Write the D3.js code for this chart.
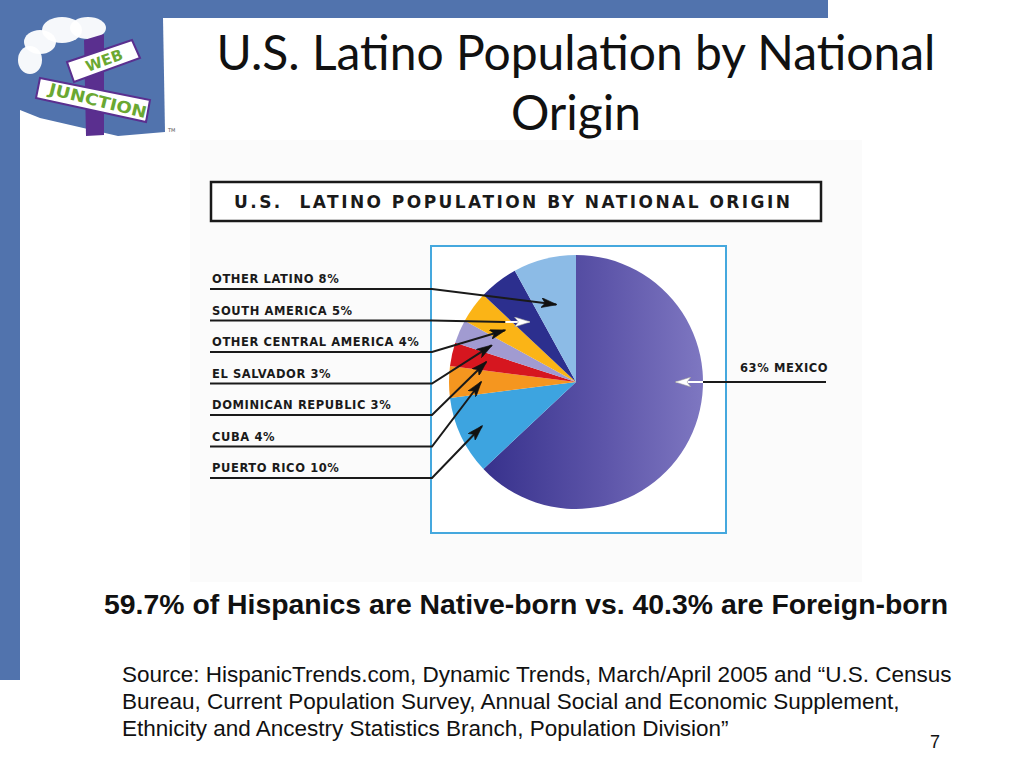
<!DOCTYPE html>
<html>
<head>
<meta charset="utf-8">
<script src="https://cdn.jsdelivr.net/npm/d3@7"></script>
<style>
  html, body { margin: 0; padding: 0; background: #fff; }
  svg { display: block; }
</style>
</head>
<body>
<div class="js-vis"></div>
<script>
// slice data, clockwise from 12 o'clock
const origins = ["Mexico", "Puerto Rico", "Cuba", "Dominican Republic", "El Salvador",
  "Other Central America", "South America", "Other Latino"]
const shares = [63, 10, 4, 3, 3, 4, 5, 8]
const labelText = ["63% MEXICO", "PUERTO RICO 10%", "CUBA 4%", "DOMINICAN REPUBLIC 3%",
  "EL SALVADOR 3%", "OTHER CENTRAL AMERICA 4%", "SOUTH AMERICA 5%", "OTHER LATINO 8%"]
const sliceColors = ["url(#mex)", "#3da4e0", "#f5961f", "#d6161f", "#a19bd1",
  "#fbb416", "#2c2f8e", "#8cbbe6"]
// left-hand labels, top to bottom
const leftOrder = ["Other Latino", "South America", "Other Central America", "El Salvador",
  "Dominican Republic", "Cuba", "Puerto Rico"]

const title = ["U.S. Latino Population by National", "Origin"]
const boxTitle = "U.S.  LATINO POPULATION BY NATIONAL ORIGIN"
const note = "59.7% of Hispanics are Native-born vs. 40.3% are Foreign-born"
const source = [
  "Source: HispanicTrends.com, Dynamic Trends, March/April 2005 and \u201cU.S. Census",
  "Bureau, Current Population Survey, Annual Social and Economic Supplement,",
  "Ethnicity and Ancestry Statistics Branch, Population Division\u201d"]
const pageNo = "7"

const W = 1024, H = 768
const blue = "#5173ad"

const svg = d3.select(".js-vis").append("svg")
  .attr("width", W)
  .attr("height", H)

const defs = svg.append("defs")
const g = defs.append("linearGradient").attr("id", "mex")
  .attr("x1", "0%").attr("x2", "100%").attr("y1", "0%").attr("y2", "0%")
g.append("stop").attr("offset", "0%").attr("stop-color", "#37318c")
g.append("stop").attr("offset", "55%").attr("stop-color", "#5d55a9")
g.append("stop").attr("offset", "100%").attr("stop-color", "#7e77c1")

function marker(id, fill, stroke) {
  defs.append("marker").attr("id", id)
    .attr("viewBox", "0 0 16 10")
    .attr("markerUnits", "userSpaceOnUse")
    .attr("markerWidth", 16).attr("markerHeight", 10)
    .attr("refX", 15).attr("refY", 5)
    .attr("orient", "auto")
  .append("path")
    .attr("d", "M0,0 L16,5 L0,10 L4,5 Z")
    .attr("fill", fill)
    .attr("stroke", stroke)
    .attr("stroke-width", 0.6)
}
marker("ab", "#111", "#111")
marker("aw", "#fff", "#999")

// slide frame
svg.append("rect").attr("x", 0).attr("y", 0).attr("width", 828).attr("height", 18).attr("fill", blue)
svg.append("rect").attr("x", 0).attr("y", 0).attr("width", 20).attr("height", 680).attr("fill", blue)

// logo
const logo = svg.append("g").attr("class", "logo")
logo.append("path")
  .attr("d", "M20,18 L163,18 L165,132 L118,136 L40,118 L20,110 Z")
  .attr("fill", blue)
logo.selectAll("ellipse.cloud").data([[40, 42, 16, 12], [62, 30, 20, 13], [88, 28, 18, 11], [30, 60, 12, 14]])
  .enter().append("ellipse").attr("class", "cloud")
  .attr("cx", d => d[0]).attr("cy", d => d[1]).attr("rx", d => d[2]).attr("ry", d => d[3])
  .attr("fill", "#fff").attr("opacity", 0.95)
logo.append("path")
  .attr("d", "M84,40 L104,34 L104,135 L86,136 Z")
  .attr("fill", "#5a2f8f")
logo.append("path")
  .attr("d", "M67,62 L132,40 L140,58 L74,82 Z")
  .attr("fill", "#fff").attr("stroke", "#5a2f8f").attr("stroke-width", 2)
logo.append("path")
  .attr("d", "M40,78 L150,100 L146,122 L36,98 Z")
  .attr("fill", "#fff").attr("stroke", "#5a2f8f").attr("stroke-width", 2)
logo.append("text").text("WEB")
  .attr("transform", "translate(88,72) rotate(-20)")
  .attr("font-family", "DejaVu Sans").attr("font-weight", "bold").attr("font-size", 15)
  .attr("fill", "#6aa832")
logo.append("text").text("JUNCTION")
  .attr("transform", "translate(48,94) rotate(14)")
  .attr("font-family", "DejaVu Sans").attr("font-weight", "bold").attr("font-size", 16)
  .attr("textLength", 100).attr("lengthAdjust", "spacingAndGlyphs")
  .attr("fill", "#6aa832")
logo.append("text").text("TM").attr("x", 168).attr("y", 132)
  .attr("font-family", "DejaVu Sans").attr("font-size", 5).attr("fill", "#555")

// slide title
svg.append("g").selectAll("text")
  .data(title)
.enter().append("text")
  .attr("x", 576)
  .attr("y", (d, i) => 70 + i * 60)
  .attr("text-anchor", "middle")
  .attr("font-family", "Lato")
  .attr("font-size", 48)
  .attr("fill", "#111")
  .text(d => d)

// embedded chart picture
svg.append("rect").attr("x", 190).attr("y", 140).attr("width", 672).attr("height", 442).attr("fill", "#fbfbfb")

svg.append("rect").attr("x", 211).attr("y", 182).attr("width", 610).attr("height", 39)
  .attr("fill", "#fff").attr("stroke", "#1a1a1a").attr("stroke-width", 2.5)
svg.append("text").text(boxTitle)
  .attr("x", 234).attr("y", 208)
  .attr("font-family", "DejaVu Sans").attr("font-weight", "bold").attr("font-size", 17)
  .attr("textLength", 556).attr("lengthAdjust", "spacing")
  .attr("xml:space", "preserve").style("white-space", "pre")
  .attr("fill", "#1a1a1a")

svg.append("rect").attr("x", 431).attr("y", 246).attr("width", 295).attr("height", 287)
  .attr("fill", "#fff").attr("stroke", "#45a8de").attr("stroke-width", 2)

const cx = 576, cy = 382, R = 127
const pie = d3.pie().sort(null).value(d => d)
const arcs = pie(shares)
const arc = d3.arc().innerRadius(0).outerRadius(R)

const chart = svg.append("g").attr("transform", "translate(" + cx + "," + cy + ")")
chart.selectAll(".slice")
  .data(arcs)
.enter().append("path")
  .attr("class", "slice")
  .attr("d", arc)
  .attr("fill", (d, i) => sliceColors[i])

// leaders for the left labels
const tipRadius = { "Other Latino": 80, "South America": 76, "Other Central America": 88,
  "El Salvador": 92, "Dominican Republic": 92, "Cuba": 95, "Puerto Rico": 104 }
const y = d3.scalePoint().domain(leftOrder).range([289, 478])
const labX = 212, bendX = 432

const lab = svg.append("g").attr("class", "labels")
leftOrder.forEach(name => {
  const i = origins.indexOf(name)
  const tipArc = d3.arc().innerRadius(tipRadius[name]).outerRadius(tipRadius[name])
  const c = tipArc.centroid(arcs[i])
  const tx = cx + c[0], ty = cy + c[1]
  const ly = y(name)
  const white = name === "South America"
  lab.append("text")
    .attr("x", labX).attr("y", ly - 6)
    .attr("font-family", "DejaVu Sans").attr("font-weight", "bold").attr("font-size", 11.5)
    .attr("letter-spacing", 0.6)
    .attr("fill", "#1a1a1a")
    .text(labelText[i])
  if (white) {
    const mid = tx - 24
    lab.append("path")
      .attr("d", "M" + 210 + "," + ly + "L" + bendX + "," + ly + "L" + mid + "," + ty)
      .attr("fill", "none").attr("stroke", "#1a1a1a").attr("stroke-width", 2)
    lab.append("path")
      .attr("d", "M" + mid + "," + ty + "L" + tx + "," + ty)
      .attr("fill", "none").attr("stroke", "#fff").attr("stroke-width", 2)
      .attr("marker-end", "url(#aw)")
  } else {
    lab.append("path")
      .attr("d", "M" + 210 + "," + ly + "L" + bendX + "," + ly + "L" + tx + "," + ty)
      .attr("fill", "none").attr("stroke", "#1a1a1a").attr("stroke-width", 2)
      .attr("marker-end", "url(#ab)")
  }
})

// Mexico label on the right
const mexTip = cx + 100, mexEdge = cx + R
lab.append("text")
  .attr("x", 740).attr("y", cy - 10)
  .attr("font-family", "DejaVu Sans").attr("font-weight", "bold").attr("font-size", 11.5)
  .attr("letter-spacing", 0.6)
  .attr("fill", "#1a1a1a")
  .text(labelText[0])
lab.append("path")
  .attr("d", "M826," + cy + "L" + mexEdge + "," + cy)
  .attr("stroke", "#1a1a1a").attr("stroke-width", 2)
lab.append("path")
  .attr("d", "M" + mexEdge + "," + cy + "L" + mexTip + "," + cy)
  .attr("stroke", "#fff").attr("stroke-width", 2)
  .attr("marker-end", "url(#aw)")

// notes
svg.append("text").text(note)
  .attr("x", 526).attr("y", 614)
  .attr("text-anchor", "middle")
  .attr("font-family", "Liberation Sans").attr("font-weight", "bold").attr("font-size", 28)
  .attr("textLength", 844).attr("lengthAdjust", "spacingAndGlyphs")
  .attr("fill", "#111")

svg.append("g").selectAll("text")
  .data(source)
.enter().append("text")
  .attr("x", 122)
  .attr("y", (d, i) => 682 + i * 27)
  .attr("font-family", "Liberation Sans")
  .attr("font-size", 22.5)
  .attr("fill", "#111")
  .text(d => d)

svg.append("text").text(pageNo)
  .attr("x", 930).attr("y", 748)
  .attr("font-family", "Liberation Sans").attr("font-size", 18)
  .attr("fill", "#111")
</script>
</body>
</html>
